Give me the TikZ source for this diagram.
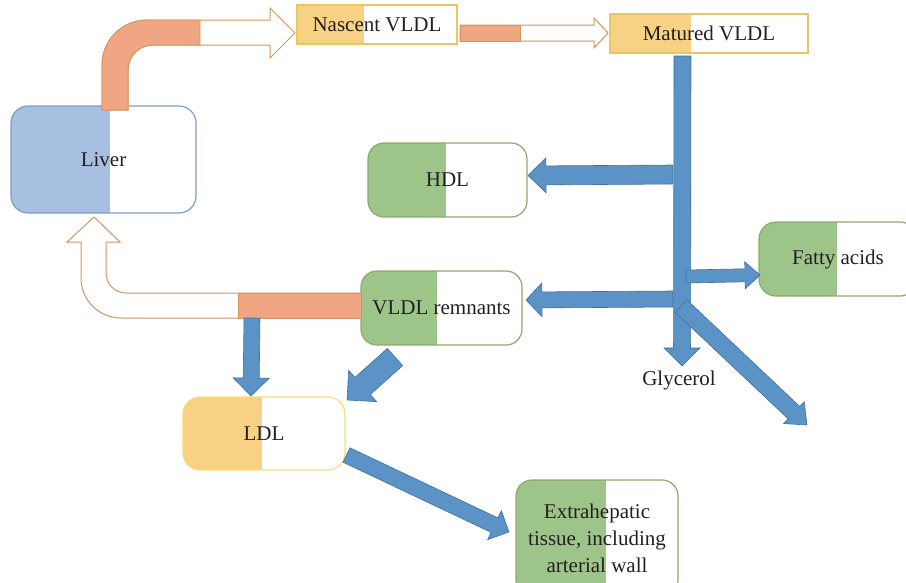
\documentclass[tikz,border=0pt]{standalone}
\usepackage{fontspec}
\setmainfont{Liberation Serif}
\definecolor{bluef}{HTML}{5B93C7}
\definecolor{bluel}{HTML}{41719C}
\definecolor{orf}{HTML}{F0A583}
\definecolor{orl}{HTML}{D4945F}
\definecolor{livf}{HTML}{A7BFE0}
\definecolor{livl}{HTML}{7F9DC4}
\definecolor{grf}{HTML}{9DC58A}
\definecolor{grl}{HTML}{8DA96B}
\definecolor{yef}{HTML}{F7D285}
\definecolor{yel}{HTML}{EBC660}
\definecolor{yelb}{HTML}{F8DC7A}
\definecolor{txt}{HTML}{231F20}
\newcommand\barrow[8]{%
 \pgfmathsetmacro\baang{atan2((#3)-(#5),(#4)-(#2))}%
 \pgfmathsetmacro\balen{veclen((#4)-(#2),(#5)-(#3))}%
 \pgfmathsetmacro\bahb{\balen-(#8)}%
 \path[#1,shift={(#2,-#3)},rotate=\baang] (0,-#6) -- (\bahb,-#6) -- (\bahb,-#7) -- (\balen,0) -- (\bahb,#7) -- (\bahb,#6) -- (0,#6) -- cycle;}
\tikzset{
 box/.style={draw, line width=1.2pt, inner sep=0pt, text=txt, font=\fontsize{21}{27}\selectfont, align=center},
 lfill/.style 2 args={path picture={\fill[#1, sharp corners] (path picture bounding box.south west) rectangle ([xshift=#2]path picture bounding box.north west);}},
 barr/.style={fill=bluef, draw=bluel, line width=0.6pt, line join=miter},
 oarr/.style={fill=white, draw=orl, line width=1pt},
 ofill/.style={fill=orf, draw=orl, line width=0.8pt},
 lbl/.style={text=txt, font=\fontsize{21}{27}\selectfont, inner sep=0pt}
}
\begin{document}
\begin{tikzpicture}[x=1pt,y=1pt]
\useasboundingbox (0,0) rectangle (906,-582);
% boxes
\node[box, draw=livl, rounded corners=17pt, minimum width=185pt, minimum height=107pt, lfill={livf}{99pt}] (liver) at (103.5,-159.5) {Liver};
\node[box, draw=yel, minimum width=160pt, minimum height=39pt, lfill={yef}{67pt}] (nas) at (377,-24.5) {Nascent VLDL};
\node[box, draw=yel, minimum width=198pt, minimum height=39pt, lfill={yef}{81pt}] (mat) at (709,-33.5) {Matured VLDL};
\node[box, draw=grl, rounded corners=16pt, minimum width=159pt, minimum height=74pt, lfill={grf}{78pt}] (hdl) at (447.5,-180) {HDL};
\node[box, draw=grl, rounded corners=16pt, minimum width=161pt, minimum height=74pt, lfill={grf}{76pt}] (rem) at (441.5,-308) {VLDL remnants};
\node[box, draw=yelb, rounded corners=17pt, minimum width=162pt, minimum height=73pt, lfill={yef}{79pt}] (ldl) at (264,-433.5) {LDL};
\node[box, draw=grl, rounded corners=17pt, minimum width=158pt, minimum height=74pt, lfill={grf}{78pt}] (fa) at (838,-259) {Fatty acids};
\node[box, draw=grl, rounded corners=16pt, minimum width=162pt, minimum height=116pt, lfill={grf}{90pt}] (ext) at (597,-538) {Extrahepatic\\tissue, including\\arterial wall};
\node[lbl] (gly) at (679,-380) {Glycerol};
% liver -> nascent VLDL
\path[oarr] (102,-110) -- (102,-65) arc[start angle=180,end angle=90,radius=45] -- (270,-20) -- (270,-8) -- (295,-33) -- (270,-58) -- (270,-45) -- (153,-45) arc[start angle=90,end angle=180,radius=25] -- (128,-110) -- cycle;
\path[ofill] (102,-110) -- (102,-65) arc[start angle=180,end angle=90,radius=45] -- (200,-20) -- (200,-45) -- (153,-45) arc[start angle=90,end angle=180,radius=25] -- (128,-110) -- cycle;
% nascent -> matured
\barrow{oarr}{460}{33}{608}{33}{8}{15}{14}
\path[ofill] (460,-25) rectangle (520,-41);
% remnants -> liver
\path[oarr] (361,-293) -- (126,-293) arc[start angle=270,end angle=180,radius=20] -- (106,-242) -- (120,-242) -- (94,-217) -- (67,-242) -- (81,-242) -- (81,-278) arc[start angle=180,end angle=270,radius=40] -- (361,-318) -- cycle;
\path[ofill] (238,-293) rectangle (361,-318);
% blue arrows
\barrow{barr}{673}{174.5}{528}{175.5}{9.5}{17.5}{18}
\barrow{barr}{673}{299}{526}{300}{8}{17}{16}
\barrow{barr}{682.5}{56}{682}{366}{8.5}{18}{18}
\barrow{barr}{686}{276.5}{760}{275}{6.5}{13.5}{15}
\barrow{barr}{681}{306}{807}{425}{8.5}{15}{18}
\barrow{barr}{395}{357}{347}{400}{11.5}{21}{21}
\barrow{barr}{252}{318}{251}{396}{8}{18}{18}
\barrow{barr}{346.5}{455}{509}{532}{8}{16}{16}
\end{tikzpicture}
\end{document}
